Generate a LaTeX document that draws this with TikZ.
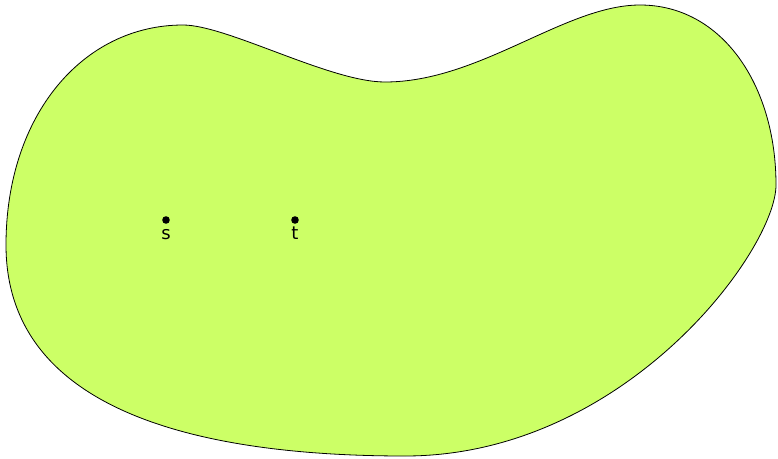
\documentclass[tikz,border=0pt]{standalone}
\usepackage{fontspec}
\setsansfont{DejaVu Sans}
\definecolor{regionfill}{HTML}{CCFF66}

\begin{document}
\begin{tikzpicture}[
  x=1pt,
  y=-1pt,
  line join=round,
  region/.style={fill=regionfill,draw=black,line width=0.8pt},
  vertex/.style={circle,fill=black,inner sep=0pt,minimum size=7.6pt},
  vlabel/.style={font=\sffamily\fontsize{18}{18}\selectfont,anchor=base,inner sep=0pt}
]
  \useasboundingbox (0,0) rectangle (778,458);

  % Outline of the region: extreme points with horizontal/vertical tangents.
  \coordinate (topleft) at (183,25);
  \coordinate (valley) at (385,82);
  \coordinate (topright) at (640,5);
  \coordinate (right) at (776,185);
  \coordinate (bottom) at (405,456);
  \coordinate (left) at (6,245);

  \path[region] (topleft)
    .. controls (227,25) and (330,82) .. (valley)
    .. controls (480,82) and (565,5) .. (topright)
    .. controls (722,5) and (776,85) .. (right)
    .. controls (776,250) and (625,456) .. (bottom)
    .. controls (220,456) and (6,420) .. (left)
    .. controls (6,115) and (83,25) .. cycle;

  % The two marked points.
  \node[vertex] (s) at (166,220) {};
  \node[vertex] (t) at (295,220) {};
  \node[vlabel] (slabel) at (166,239) {s};
  \node[vlabel] (tlabel) at (295,239) {t};
\end{tikzpicture}
\end{document}
